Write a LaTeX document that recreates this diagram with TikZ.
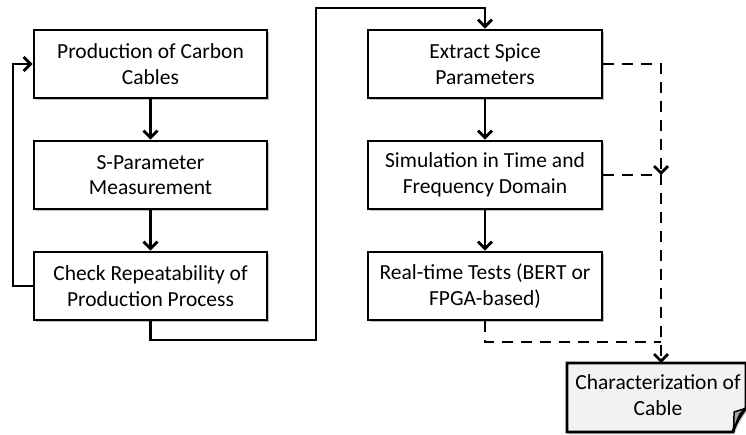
\documentclass[tikz,border=0pt]{standalone}
\usepackage{fontspec}
\setmainfont{Carlito}
\usetikzlibrary{arrows.meta,shadows}
\begin{document}
\begin{tikzpicture}[x=1pt,y=-1pt,
  stepbox/.style={draw=black,line width=2.8pt,fill=white,minimum width=233pt,minimum height=68pt,
    inner sep=0pt,align=center,font=\fontsize{21.5}{25.5}\selectfont,
    drop shadow={shadow xshift=2pt,shadow yshift=-2pt,opacity=0.25,fill=black}},
  conn/.style={line width=2.8pt,line join=miter},
  arr/.style={conn,-{Straight Barb[length=7pt,width=14pt,line width=2.8pt]}},
  dconn/.style={conn,dash pattern=on 11pt off 8pt},
  darr/.style={dconn,-{Straight Barb[length=7pt,width=14pt,line width=2.8pt]}},
  txt/.style={align=center,font=\fontsize{21.5}{25.5}\selectfont,inner sep=0pt}]
\useasboundingbox (0,0) rectangle (746,435);
% left column
\node[stepbox] (b1) at (150.5,64) {Production of Carbon\\Cables};
\node[stepbox] (b2) at (150.5,175) {S-Parameter\\Measurement};
\node[stepbox] (b3) at (150.5,286) {Check Repeatability of\\Production Process};
% right column
\node[stepbox,minimum width=234pt] (rA) at (485,64) {Extract Spice\\Parameters};
\node[stepbox,minimum width=234pt] (rB) at (485,175) {Simulation in Time and\\Frequency Domain};
\node[stepbox,minimum width=234pt] (rC) at (485,286) {Real-time Tests (BERT or\\FPGA-based)};
% document shape
\fill[black,opacity=0.2] (569,365) -- (748,365) -- (748,410) .. controls (742,418) and (737,426) .. (735,434) -- (569,434) -- cycle;
\draw[line width=2.8pt,fill=black!5,line join=miter] (567,363) -- (746,363) -- (746,408) .. controls (740,416) and (735,424) .. (733,432) -- (567,432) -- cycle;
\draw[line width=1.5pt,fill=black!35,line join=round] (733,432) .. controls (736,424) and (738,417) .. (740,414) .. controls (742,412) and (744,410) .. (746,408) .. controls (741,410) and (737,411) .. (734,412) .. controls (734,419) and (734,426) .. (733,432) -- cycle;
\node[txt] (doc) at (658,395) {Characterization of\\Cable};
\coordinate (doctop) at (661,363);
\coordinate (jB) at (661,175);
\coordinate (jC) at (661,342);
% solid connectors
\draw[arr] (b1.south) -- (b2.north);
\draw[arr] (b2.south) -- (b3.north);
\draw[arr] (b3.west) -- (13,286) -- (13,64) -- (b1.west);
\draw[arr] (b3.south) -- (150.5,340) -- (316,340) -- (316,8) -- (485,8) -- (rA.north);
\draw[arr] (rA.south) -- (rB.north);
\draw[arr] (rB.south) -- (rC.north);
% dashed connectors
\draw[darr] (rA.east) -- (661,64) -- (jB);
\draw[darr] (rB.east) -- (jB) -- (doctop);
\draw[dconn] (rC.south) -- (485,342) -- (jC);
\end{tikzpicture}
\end{document}
